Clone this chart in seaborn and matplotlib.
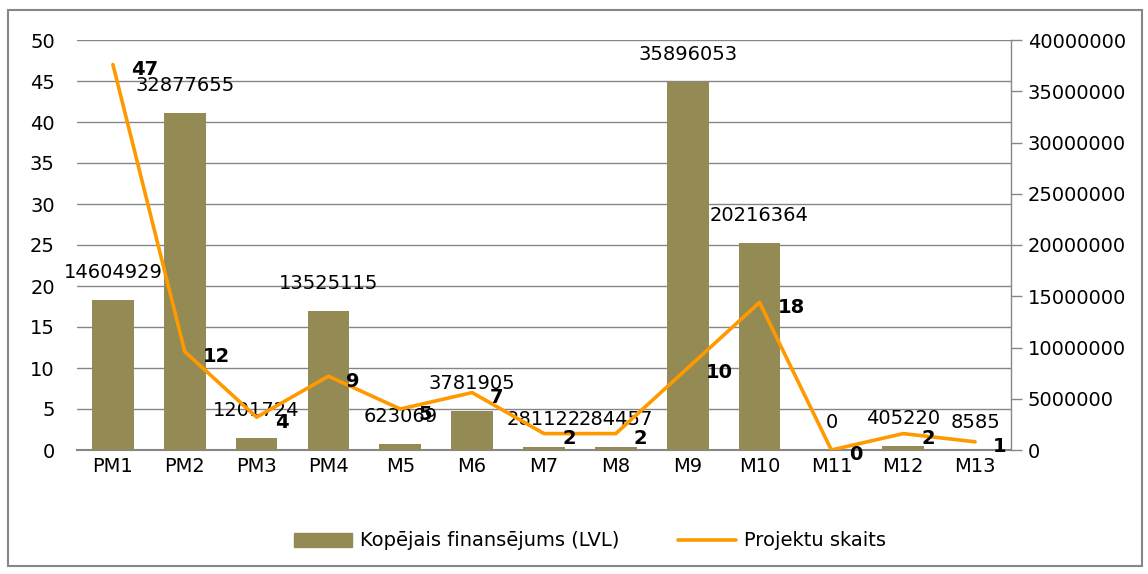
import numpy as np
import pandas as pd
import matplotlib
matplotlib.use("Agg")
import matplotlib.pyplot as plt
import seaborn as sns
from matplotlib.patches import Rectangle, Patch
from matplotlib.lines import Line2D

categories = ["PM1", "PM2", "PM3", "PM4", "M5", "M6", "M7", "M8", "M9", "M10", "M11", "M12", "M13"]
funding = [14604929, 32877655, 1201724, 13525115, 623069, 3781905, 281122, 284457,
           35896053, 20216364, 0, 405220, 8585]
projects = [47, 12, 4, 9, 5, 7, 2, 2, 10, 18, 0, 2, 1]
left_ticks = list(range(0, 51, 5))
right_ticks = list(range(0, 40000001, 5000000))
bar_label_name = "Kopējais finansējums (LVL)"
line_label_name = "Projektu skaits"

bar_color = "#948A54"
line_color = "#FF9900"
grid_color = "#868686"

sns.set_theme(style="white")
plt.rcParams["font.family"] = ["DejaVu Sans"]
plt.rcParams["text.color"] = "black"
plt.rcParams["xtick.color"] = "black"
plt.rcParams["ytick.color"] = "black"

fig = plt.figure(figsize=(11.48, 5.74), dpi=100)
W, H = 1148, 574
ax = fig.add_axes([77 / W, 1 - 450 / H, (1011 - 77) / W, 410 / H])
axb = ax.twinx()
axl = ax.twinx()

df = pd.DataFrame({"cat": categories, "funding": funding, "projects": projects})

sns.barplot(data=df, x="cat", y="funding", order=categories, color=bar_color,
            saturation=1, width=0.58, ax=axb, errorbar=None, linewidth=0)
sns.pointplot(data=df, x="cat", y="projects", order=categories, color=line_color,
              markers="", linestyles="-", ax=axl, errorbar=None, linewidth=2.6)

# left axis (gridlines + left labels)
ax.set_ylim(0, 50)
ax.set_yticks(left_ticks)
ax.set_yticklabels([str(t) for t in left_ticks])
ax.grid(axis="y", color=grid_color, lw=1)
ax.grid(axis="x", visible=False)
ax.tick_params(axis="y", length=0, pad=16, labelsize=14)
ax.tick_params(axis="x", length=0, pad=5, labelsize=14)
for s in ["top", "left", "right"]:
    ax.spines[s].set_visible(False)
ax.spines["bottom"].set_color(grid_color)
ax.spines["bottom"].set_linewidth(1.5)

# right axis (bars)
axb.set_ylim(0, 40000000)
axb.set_yticks(right_ticks)
axb.set_yticklabels([str(t) for t in right_ticks])
axb.tick_params(axis="y", direction="out", length=8, width=1, color=grid_color,
                pad=4, labelsize=14, right=True, left=False)
for s in ["top", "left", "bottom"]:
    axb.spines[s].set_visible(False)
axb.spines["right"].set_color(grid_color)
axb.spines["right"].set_linewidth(1)
axb.set_xlabel("")
axb.set_ylabel("")
for cont in axb.containers:
    axb.bar_label(cont, labels=[str(v) for v in funding], padding=13, fontsize=14)

# line axis
axl.set_ylim(0, 50)
axl.set_yticks([])
axl.set_xlabel("")
axl.set_ylabel("")
for s in axl.spines.values():
    s.set_visible(False)
for i, v in enumerate(projects):
    axl.annotate(str(v), (i, v), xytext=(18, -5), textcoords="offset pixels",
                 ha="left", va="center", fontweight="bold", fontsize=14)

ax.set_xlim(-0.5, len(categories) - 0.5)
ax.set_xlabel("")
ax.set_ylabel("")
ax.set_xticks(range(len(categories)))
ax.set_xticklabels(categories)

fig.patches.append(Rectangle((8 / W, 1 - 566 / H), (1142 - 8) / W, (566 - 10) / H,
                             transform=fig.transFigure, fill=False,
                             edgecolor=grid_color, lw=1.5))

handles = [Patch(color=bar_color, label=bar_label_name),
           Line2D([], [], color=line_color, lw=2.6, label=line_label_name)]
fig.legend(handles=handles, loc="center", bbox_to_anchor=(0.514, 1 - 541 / H),
           ncol=2, frameon=False, fontsize=14, handlelength=3.0,
           columnspacing=3.0, handletextpad=0.4)

fig.savefig("out.png", dpi=100)
